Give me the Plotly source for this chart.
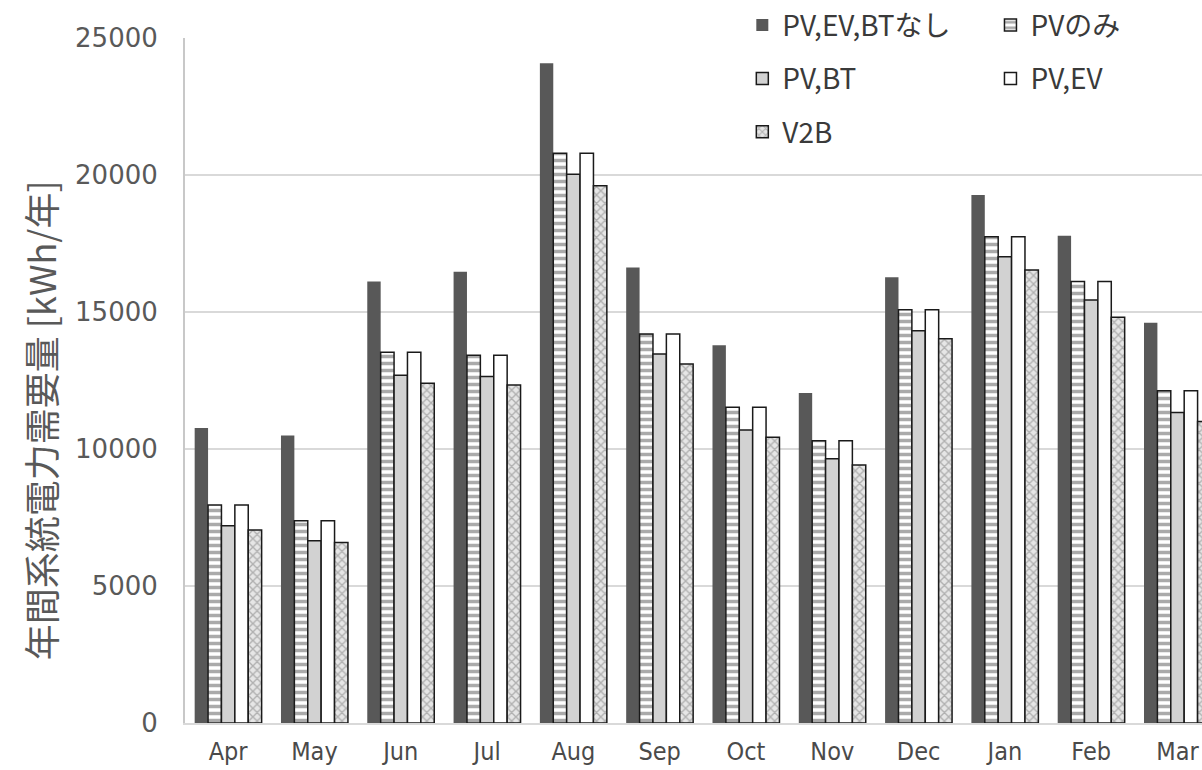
import plotly.graph_objects as go

months = ["Apr", "May", "Jun", "Jul", "Aug", "Sep", "Oct", "Nov", "Dec", "Jan", "Feb", "Mar"]
series_names = ["PV,EV,BTなし", "PVのみ", "PV,BT", "PV,EV", "V2B"]
none_vals = [10770, 10490, 16110, 16470, 24080, 16620, 13790, 12040, 16270, 19270, 17780, 14610]
pv_only = [7960, 7380, 13530, 13420, 20790, 14200, 11520, 10300, 15080, 17750, 16110, 12130]
pv_bt = [7200, 6650, 12690, 12650, 20030, 13470, 10690, 9640, 14320, 17020, 15440, 11330]
pv_ev = [7960, 7380, 13530, 13420, 20790, 14200, 11520, 10300, 15080, 17750, 16110, 12130]
v2b = [7040, 6590, 12400, 12340, 19610, 13100, 10430, 9420, 14020, 16530, 14810, 11000]
y_ticks = [0, 5000, 10000, 15000, 20000, 25000]
y_title = "年間系統電力需要量 [kWh/年]"

fig = go.Figure()

outline = dict(color="#1a1a1a", width=1.5)

fig.add_trace(go.Bar(name=series_names[0], x=months, y=none_vals,
                     marker=dict(color="#585858", line=dict(width=0)),
                     legend="legend", legendgroup="a"))
fig.add_trace(go.Bar(name=series_names[1], x=months, y=pv_only,
                     marker=dict(color="white", line=outline,
                                 pattern=dict(shape="-", fgcolor="#555555", bgcolor="white",
                                              size=7, solidity=0.5)),
                     legend="legend2", legendgroup="b"))
fig.add_trace(go.Bar(name=series_names[2], x=months, y=pv_bt,
                     marker=dict(color="#d2d2d2", line=outline),
                     legend="legend", legendgroup="c"))
fig.add_trace(go.Bar(name=series_names[3], x=months, y=pv_ev,
                     marker=dict(color="white", line=outline),
                     legend="legend2", legendgroup="d"))
fig.add_trace(go.Bar(name=series_names[4], x=months, y=v2b,
                     marker=dict(color="#e0e0e0", line=outline,
                                 pattern=dict(shape="x", fgcolor="#7a7a7a", bgcolor="#e6e6e6",
                                              size=6, solidity=0.4)),
                     legend="legend", legendgroup="e"))

legend_font = dict(family="Noto Sans CJK JP, Noto Sans, sans-serif", size=28, color="#3a3a3a")

fig.update_layout(
    width=1202, height=770,
    margin=dict(l=185, r=0, t=38, b=47, autoexpand=False),
    paper_bgcolor="white", plot_bgcolor="white",
    barmode="group", bargap=0.224, bargroupgap=0,
    showlegend=True,
    legend=dict(x=0.548, y=1.055, xanchor="left", yanchor="top",
                orientation="v", bgcolor="rgba(255,255,255,1)",
                font=legend_font, tracegroupgap=14, itemwidth=30),
    legend2=dict(x=0.792, y=1.055, xanchor="left", yanchor="top",
                 orientation="v", bgcolor="rgba(255,255,255,1)",
                 font=legend_font, tracegroupgap=14, itemwidth=30),
    xaxis=dict(range=[-0.5, 11.284], showgrid=False, showline=True,
               linecolor="#d9d9d9", linewidth=2, ticks="",
               tickfont=dict(family="Liberation Sans Narrow, DejaVu Sans Condensed, Arial Narrow, sans-serif",
                             size=25, color="#4a4a4a"),
               ticklabelstandoff=5),
    yaxis=dict(range=[0, 25000], tickvals=y_ticks, ticktext=[str(v) for v in y_ticks],
               showgrid=True,
               gridcolor="#d9d9d9", gridwidth=2, showline=True,
               linecolor="#c8c8c8", linewidth=2, ticks="", zeroline=False,
               tickfont=dict(family="DejaVu Sans, sans-serif", size=26, color="#595959"),
               ticklabelstandoff=20),
)

fig.add_annotation(text=y_title, xref="paper", yref="paper", x=-0.1426, y=0.442,
                   xanchor="center", yanchor="middle", textangle=-90, showarrow=False,
                   font=dict(family="Noto Sans CJK JP, sans-serif", size=36, color="#595959"))

fig.add_shape(type="rect", xref="paper", yref="paper", x0=0.538, x1=1.0, y0=0.99, y1=1.07,
              fillcolor="white", line=dict(width=0), layer="above")

fig.write_html("out.html")
